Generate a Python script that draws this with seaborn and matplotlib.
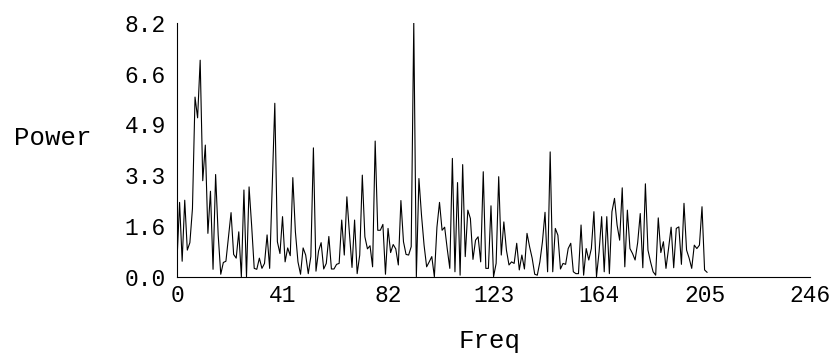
import numpy as np
import pandas as pd
import matplotlib
matplotlib.use("Agg")
import matplotlib.pyplot as plt
import seaborn as sns

# --- datos ---
power = [
    0.54, 2.4, 0.5, 2.47, 0.86, 1.1, 2.2, 5.8, 5.13, 6.99,
    3.1, 4.25, 1.4, 2.76, 0.24, 3.3, 1.35, 0.08, 0.46, 0.5,
    1.3, 2.07, 0.72, 0.6, 1.45, 0.0, 2.8, 0.0, 2.9, 1.65,
    0.27, 0.24, 0.6, 0.27, 0.43, 1.35, 0.27, 2.9, 5.6, 1.13,
    0.75, 1.94, 0.48, 0.93, 0.68, 3.2, 1.45, 0.48, 0.08, 0.93,
    0.7, 0.1, 0.65, 4.16, 0.18, 0.83, 1.1, 0.25, 0.43, 1.3,
    0.25, 0.25, 0.4, 0.43, 1.83, 0.7, 2.58, 1.4, 0.3, 1.83,
    0.1, 0.7, 3.28, 1.29, 0.9, 1.0, 0.32, 4.38, 1.5, 1.5,
    1.69, 0.08, 1.56, 0.78, 1.04, 0.9, 0.38, 2.46, 1.13, 0.72,
    0.7, 0.97, 8.2, 0.0, 3.17, 1.99, 1.02, 0.32, 0.48, 0.65,
    0.0, 1.6, 2.4, 1.5, 1.6, 0.9, 0.27, 3.82, 0.16, 3.04,
    0.05, 3.62, 0.65, 2.15, 1.88, 0.56, 1.18, 1.29, 0.48, 3.39,
    0.27, 0.27, 2.29, 0.0, 0.43, 3.23, 0.7, 1.77, 0.86, 0.38,
    0.48, 0.43, 1.08, 0.22, 0.7, 0.25, 1.4, 0.97, 0.6, 0.08,
    0.05, 0.48, 1.13, 2.08, 0.16, 4.03, 0.16, 1.56, 1.34, 0.25,
    0.43, 0.4, 0.91, 1.08, 0.16, 0.1, 0.1, 1.67, 0.05, 0.91,
    0.54, 0.91, 2.1, 0.0, 0.8, 1.94, 0.16, 1.94, 0.1, 2.1,
    2.53, 1.67, 1.18, 2.87, 0.32, 2.15, 0.91, 0.75, 0.54, 1.1,
    2.04, 0.29, 3.0, 0.86, 0.48, 0.16, 0.05, 1.9, 0.78, 1.13,
    0.27, 0.91, 1.6, 0.29, 1.56, 1.61, 0.4, 2.37, 0.86, 0.6,
    0.27, 1.02, 0.91, 1.02, 2.26, 0.22, 0.14,
]
freq = np.arange(len(power))

x_ticks = [0, 41, 82, 123, 164, 205, 246]
y_ticks = [0.0, 1.64, 3.28, 4.92, 6.56, 8.2]
y_tick_labels = ["0.0", "1.6", "3.3", "4.9", "6.6", "8.2"]

df = pd.DataFrame({"Freq": freq, "Power": power})

# --- figura ---
sns.set_style("white")
plt.rcParams["font.family"] = ["Liberation Mono", "DejaVu Sans Mono"]

fig = plt.figure(figsize=(8.33, 3.58), dpi=100)
ax = fig.add_axes([0.2125, 0.227, 0.76, 0.7095])

sns.lineplot(data=df, x="Freq", y="Power", color="black", linewidth=0.8, ax=ax)

ax.set_xlim(0, 246)
ax.set_ylim(0, 8.2)
ax.set_xticks(x_ticks)
ax.set_xticklabels([str(t) for t in x_ticks])
ax.set_yticks(y_ticks)
ax.set_yticklabels(y_tick_labels)

for s in ["top", "right"]:
    ax.spines[s].set_visible(False)
for s in ["left", "bottom"]:
    ax.spines[s].set_color("black")
    ax.spines[s].set_linewidth(0.8)

ax.tick_params(axis="both", direction="inout", length=6, width=0.8,
               color="black", labelsize=16.5, labelcolor="black")
ax.tick_params(axis="y", pad=5)
ax.tick_params(axis="x", pad=2)
for lab in ax.get_yticklabels():
    lab.set_verticalalignment("center_baseline")

# etiquetas de ejes
ax.set_xlabel("Freq", fontsize=18.5, color="black", va="top")
ax.set_ylabel("Power", fontsize=18.5, color="black", rotation=0, ha="center", va="center")
ax.xaxis.set_label_coords(0.494, -0.205)
ax.yaxis.set_label_coords(-0.196, 0.546)

fig.savefig("out.png", dpi=100)
